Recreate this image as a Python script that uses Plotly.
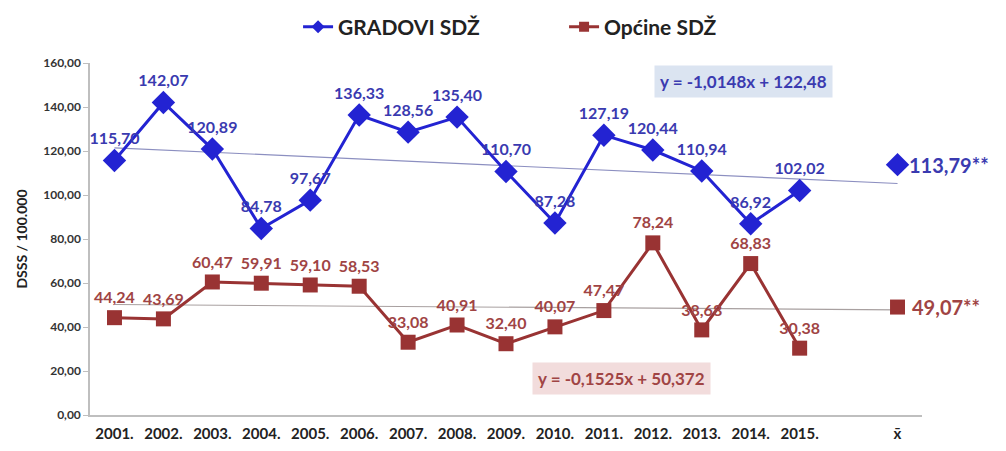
import plotly.graph_objects as go

years = ["2001.", "2002.", "2003.", "2004.", "2005.", "2006.", "2007.", "2008.",
         "2009.", "2010.", "2011.", "2012.", "2013.", "2014.", "2015."]
tick_labels = years + ["", "x\u0304"]
gradovi = [115.70, 142.07, 120.89, 84.78, 97.67, 136.33, 128.56, 135.40,
           110.70, 87.28, 127.19, 120.44, 110.94, 86.92, 102.02]
opcine = [44.24, 43.69, 60.47, 59.91, 59.10, 58.53, 33.08, 40.91,
          32.40, 40.07, 47.47, 78.24, 38.68, 68.83, 30.38]
mean_gradovi = 113.79
mean_opcine = 49.07
trend_gradovi = (-1.0148, 122.48)
trend_opcine = (-0.1525, 50.372)
y_ticks = [0, 20, 40, 60, 80, 100, 120, 140, 160]

BLUE = "#2323d2"
BLUE_TXT = "#3a3ab0"
RED = "#993333"
RED_TXT = "#a04444"
FONT = "Lato"

xi = list(range(len(years)))
mean_idx = len(tick_labels) - 1
trend_x = [0, mean_idx]

fig = go.Figure()

# trend lines (x in Excel = index + 1)
fig.add_trace(go.Scatter(
    x=trend_x, y=[trend_gradovi[0] * (t + 1) + trend_gradovi[1] for t in trend_x],
    mode="lines", line=dict(color="#8c8fc0", width=1.2), showlegend=False, hoverinfo="skip"))
fig.add_trace(go.Scatter(
    x=trend_x, y=[trend_opcine[0] * (t + 1) + trend_opcine[1] for t in trend_x],
    mode="lines", line=dict(color="#a8a0a0", width=1.2), showlegend=False, hoverinfo="skip"))

fig.add_trace(go.Scatter(
    x=xi, y=gradovi, name="GRADOVI SDŽ", mode="lines+markers+text", showlegend=False,
    line=dict(color=BLUE, width=3),
    marker=dict(symbol="diamond", size=18, color=BLUE),
    texttemplate="%{y:.2f}", textposition="top center",
    textfont=dict(family=FONT, size=16, color=BLUE_TXT, weight="bold")))
fig.add_trace(go.Scatter(
    x=xi, y=opcine, name="Općine SDŽ", mode="lines+markers+text", showlegend=False,
    line=dict(color=RED, width=3),
    marker=dict(symbol="square", size=15, color=RED),
    texttemplate="%{y:.2f}", textposition="top center",
    textfont=dict(family=FONT, size=16, color=RED_TXT, weight="bold")))

# legend entries (small symbols as in the original)
fig.add_trace(go.Scatter(
    x=[None], y=[None], name="GRADOVI SDŽ", mode="lines+markers",
    line=dict(color=BLUE, width=3), marker=dict(symbol="diamond", size=10, color=BLUE)))
fig.add_trace(go.Scatter(
    x=[None], y=[None], name="Općine SDŽ", mode="lines+markers",
    line=dict(color=RED, width=3), marker=dict(symbol="square", size=10, color=RED)))

# means
fig.add_trace(go.Scatter(
    x=[mean_idx], y=[mean_gradovi], mode="markers", showlegend=False,
    marker=dict(symbol="diamond", size=18, color=BLUE)))
fig.add_trace(go.Scatter(
    x=[mean_idx], y=[mean_opcine], mode="markers", showlegend=False,
    marker=dict(symbol="square", size=15, color=RED)))

fig.add_annotation(x=mean_idx, y=mean_gradovi, xanchor="left", xshift=9, showarrow=False,
                   text=f"{mean_gradovi:.2f}".replace(".", ",") + "**",
                   font=dict(family=FONT, size=20, color=BLUE_TXT, weight="bold"))
fig.add_annotation(x=mean_idx, y=mean_opcine, xanchor="left", xshift=12, showarrow=False,
                   text=f"{mean_opcine:.2f}".replace(".", ",") + "**",
                   font=dict(family=FONT, size=20, color=RED_TXT, weight="bold"))

def eq(a, b):
    return f"y = {a:.4f}x + {b:g}".replace(".", ",")

fig.add_annotation(x=12.85, y=151.4, showarrow=False, text=eq(*trend_gradovi),
                   bgcolor="#dbe4f1", borderpad=5,
                   font=dict(family=FONT, size=17, color=BLUE_TXT, weight="bold"))
fig.add_annotation(x=10.35, y=16.8, showarrow=False, text=eq(*trend_opcine),
                   bgcolor="#f2dcdc", borderpad=5,
                   font=dict(family=FONT, size=17, color=RED_TXT, weight="bold"))

fig.update_layout(
    width=990, height=435,
    margin=dict(l=82, r=76, t=55, b=28, autoexpand=False),
    paper_bgcolor="white", plot_bgcolor="white",
    separators=",.",
    font=dict(family=FONT, color="#333333"),
    legend=dict(orientation="h", xref="container", yref="container",
                x=0.293, xanchor="left", y=0.956, yanchor="middle",
                font=dict(family=FONT, size=21, color="#222222", weight="bold"),
                itemwidth=30, entrywidth=221, entrywidthmode="pixels",
                tracegroupgap=0),
    xaxis=dict(range=[-0.5, mean_idx + 0.5], tickmode="array", automargin=False,
               tickvals=list(range(len(tick_labels))), ticktext=tick_labels,
               showline=True, linecolor="#bfbfbf", linewidth=1.5, showgrid=False,
               zeroline=False, ticks="outside", ticklen=4, tickcolor="rgba(0,0,0,0)",
               tickfont=dict(family=FONT, size=15, color="#222222", weight="bold")),
    yaxis=dict(range=[0, 160], tickvals=y_ticks, tickformat=".2f", automargin=False,
               showline=True, linecolor="#bfbfbf", linewidth=1.5, showgrid=False,
               zeroline=False, ticks="outside", ticklen=5, tickcolor="#bfbfbf",
               tickfont=dict(family=FONT, size=12, color="#333333", weight="bold"),
               title=dict(text="DSSS / 100.000", standoff=12,
                          font=dict(family=FONT, size=14, color="#222222", weight="bold"))),
)

fig.write_html("out.html")
